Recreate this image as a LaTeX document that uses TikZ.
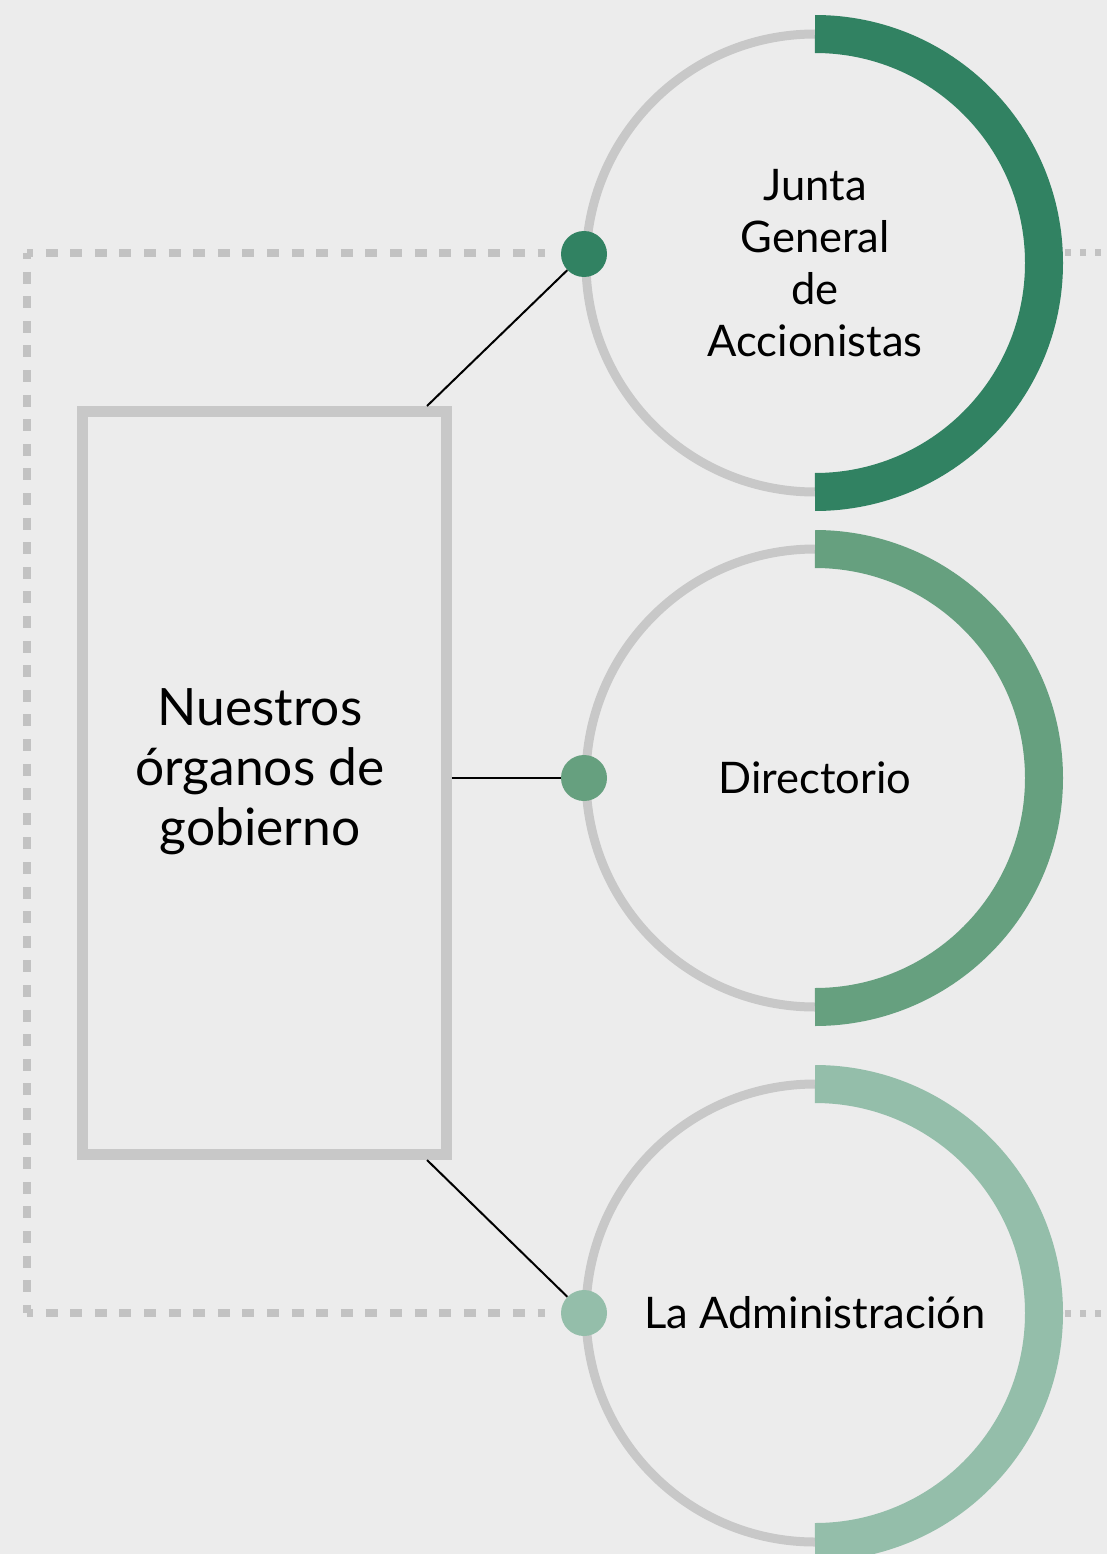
\documentclass[tikz,border=0pt]{standalone}
\usepackage{fontspec}
\setmainfont{Lato}
\definecolor{bg}{HTML}{ECECEC}
\definecolor{ring}{HTML}{C8C8C8}
\definecolor{dashc}{HTML}{C2C2C2}
\definecolor{gA}{HTML}{318262}
\definecolor{gB}{HTML}{66A07F}
\definecolor{gC}{HTML}{94BEAA}
\tikzset{
  ringnode/.style={circle, draw=ring, line width=9pt, minimum size=458pt, inner sep=0pt, align=center,
    font=\fontsize{43.5}{52}\selectfont},
  arcband/.style={line width=38pt, line cap=butt},
  dotnode/.style={circle, minimum size=46pt, inner sep=0pt},
  frame/.style={draw=dashc, line width=7.5pt, dash pattern=on 12pt off 12.6pt, dash phase=6pt},
  tail/.style={draw=dashc, line width=7pt, dash pattern=on 6pt off 9pt},
  link/.style={draw=black, line width=2pt},
  mainbox/.style={draw=ring, line width=11pt, minimum width=363.5pt, minimum height=742.5pt, inner sep=0pt},
  boxlabel/.style={align=center, inner sep=0pt, font=\fontsize{51.5}{60}\selectfont}
}
\begin{document}
\begin{tikzpicture}[x=1pt,y=-1pt]
\fill[bg] (0,0) rectangle (1107,1554);
\useasboundingbox (0,0) rectangle (1107,1554);
\clip (0,0) rectangle (1107,1554);
% dashed frame
\coordinate (tl) at (27,253);
\coordinate (bl) at (27,1313);
\coordinate (tr) at (545,253);
\coordinate (br) at (545,1313);
\draw[frame] (tl) -- (tr);
\draw[frame] (tl) -- (bl);
\draw[frame] (bl) -- (br);
\coordinate (t1a) at (1065,253);
\coordinate (t1b) at (1107,253);
\coordinate (t3a) at (1065,1313);
\coordinate (t3b) at (1107,1313);
\draw[tail] (t1a) -- (t1b);
\draw[tail] (t3a) -- (t3b);
% circles
\node[ringnode] (c1) at (815,263) {Junta\\General\\de\\Accionistas};
\node[ringnode] (c2) at (815,778) {Directorio};
\node[ringnode] (c3) at (815,1313) {La Administración};
\draw[arcband, gA] (815,34) arc[start angle=-90, end angle=90, radius=229];
\draw[arcband, gB] (815,549) arc[start angle=-90, end angle=90, radius=229];
\draw[arcband, gC] (815,1084) arc[start angle=-90, end angle=90, radius=229];
% main box
\node[mainbox] (box) at (264.5,783) {};
\node[boxlabel] (boxtext) at (260,772) {Nuestros\\órganos de\\gobierno};
% dots
\node[dotnode, fill=gA] (d1) at (584,254) {};
\node[dotnode, fill=gB] (d2) at (584,778) {};
\node[dotnode, fill=gC] (d3) at (584,1313) {};
% links
\coordinate (r1) at (427,406);
\coordinate (r3) at (427,1160);
\draw[link] (r1) -- (d1);
\draw[link] (box.east |- d2) -- (d2);
\draw[link] (r3) -- (d3);
\end{tikzpicture}
\end{document}
